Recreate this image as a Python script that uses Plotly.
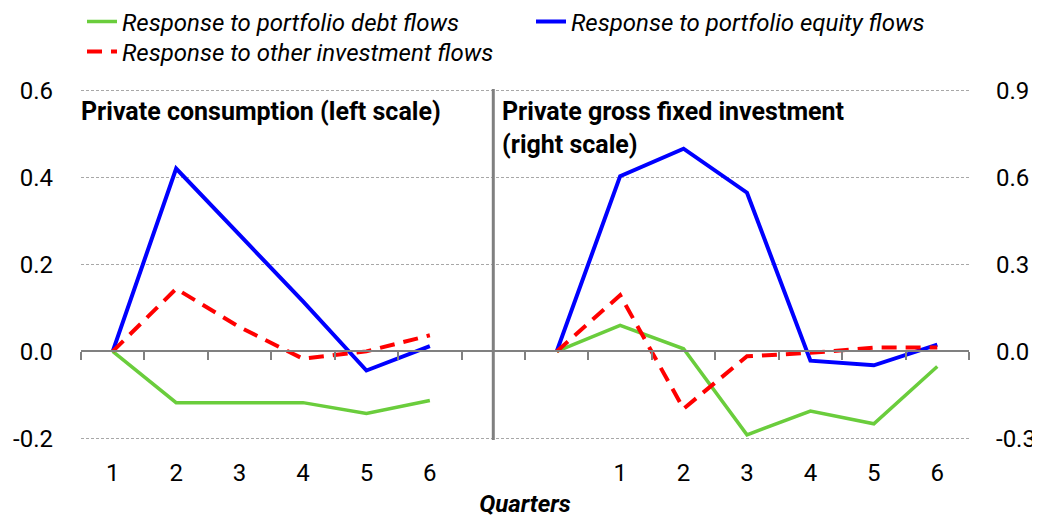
import plotly.graph_objects as go

# left panel: private consumption (left scale), quarters 1..6
quarters_left = [1, 2, 3, 4, 5, 6]
cons_debt = [0.0, -0.118, -0.118, -0.118, -0.143, -0.113]
cons_equity = [0.0, 0.421, 0.268, 0.115, -0.044, 0.012]
cons_other = [0.0, 0.144, 0.056, -0.017, 0.0, 0.037]

# right panel: private gross fixed investment (right scale), quarters 0..6
quarters_right = [0, 1, 2, 3, 4, 5, 6]
inv_debt = [0.0, 0.090, 0.009, -0.288, -0.206, -0.250, -0.052]
inv_equity = [0.0, 0.605, 0.700, 0.548, -0.032, -0.048, 0.023]
inv_other = [0.0, 0.194, -0.198, -0.017, -0.005, 0.013, 0.013]

left_ticks = [-0.2, 0.0, 0.2, 0.4, 0.6]
right_ticks = [-0.3, 0.0, 0.3, 0.6, 0.9]

names = ['Response to portfolio debt flows',
         'Response to portfolio equity flows',
         'Response to other investment flows']

FONT = 'Roboto, Liberation Sans, sans-serif'
GREEN = '#6ACD3C'
BLUE = '#0000FF'
RED = '#FF0000'

# page body has an 8px margin, so the figure is drawn 8px smaller
W, H = 1032, 510

# positions on one shared axis: left block, one empty slot, right block
gap = len(quarters_left)
x_left = list(range(len(quarters_left)))
x_right = [gap + 1 + i for i in range(len(quarters_right))]
n_slots = x_right[-1] + 1

tickvals = x_left + x_right
ticktext = [str(q) for q in quarters_left] + [str(q) if q > 0 else '' for q in quarters_right]

styles = [dict(color=GREEN, width=3.5),
          dict(color=BLUE, width=4),
          dict(color=RED, width=4, dash='15px,9px')]
legends = ['legend', 'legend2', 'legend3']

fig = go.Figure()

left = [cons_debt, cons_equity, cons_other]
right = [inv_debt, inv_equity, inv_other]
for i in range(3):
    fig.add_trace(go.Scatter(x=x_left, y=left[i], mode='lines', name=names[i],
                             line=styles[i], legendgroup=names[i],
                             legend=legends[i], yaxis='y'))
for i in range(3):
    fig.add_trace(go.Scatter(x=x_right, y=right[i], mode='lines', name=names[i],
                             line=styles[i], legendgroup=names[i], showlegend=False,
                             yaxis='y2'))

# dummy trace so the zero axis (xaxis2) is drawn
fig.add_trace(go.Scatter(x=[None], y=[None], xaxis='x2', showlegend=False,
                         hoverinfo='skip'))

# divider between panels
fig.add_vline(x=gap, line=dict(color='#808080', width=3))


def leg(px, py):
    # px: left edge, py: row centre, both in pixels from the top-left
    return dict(
        orientation='h', xref='container', yref='container',
        x=px / W, y=1 - py / H, xanchor='left', yanchor='middle',
        font=dict(family=FONT, size=24, style='italic'),
        itemwidth=30, bgcolor='rgba(0,0,0,0)',
    )


# small padding so the edge gridlines (0.6 / -0.2) are not clipped
eps = 0.004
y_lo, y_hi = left_ticks[0] - eps, left_ticks[-1] + eps
zero_pos = (0 - y_lo) / (y_hi - y_lo)

fig.update_layout(
    width=W, height=H,
    plot_bgcolor='white', paper_bgcolor='white',
    margin=dict(l=73, r=71, t=81, b=78),
    font=dict(family=FONT, color='black', size=24),
    showlegend=True,
    legend=leg(74, 14),
    legend2=leg(523, 14),
    legend3=leg(74, 44),
    xaxis=dict(
        range=[-0.5, n_slots - 0.5], automargin=False,
        tickmode='array', tickvals=tickvals, ticktext=ticktext,
        showgrid=False, zeroline=False, showline=False, ticks='',
        ticklabelstandoff=16,
        tickfont=dict(size=24),
        title=dict(text='<b><i>Quarters</i></b>', standoff=15,
                   font=dict(size=24)),
    ),
    xaxis2=dict(
        overlaying='x', anchor='free', position=zero_pos, automargin=False,
        range=[-0.5, n_slots - 0.5],
        tickmode='array', tickvals=[v - 0.5 for v in range(n_slots + 1)],
        showticklabels=False, ticks='outside', ticklen=8, tickwidth=2,
        tickcolor='#808080',
        showline=True, linecolor='#808080', linewidth=2,
        showgrid=False, zeroline=False,
    ),
    yaxis=dict(
        range=[y_lo, y_hi], automargin=False,
        tickmode='array', tickvals=left_ticks,
        ticktext=[f'{v:.1f}' for v in left_ticks],
        showgrid=True, gridcolor='#A8A8A8', griddash='3px,2px', gridwidth=1,
        zeroline=False, showline=False, ticks='',
        ticklabelstandoff=27,
        tickfont=dict(size=24),
    ),
    yaxis2=dict(
        overlaying='y', side='right', automargin=False,
        range=[right_ticks[0] - 1.5 * eps, right_ticks[-1] + 1.5 * eps],
        tickmode='array', tickvals=right_ticks,
        ticktext=[f'{v:.1f}' for v in right_ticks],
        showgrid=False, zeroline=False, showline=False, ticks='',
        ticklabelstandoff=26,
        tickfont=dict(size=24),
    ),
)

fig.add_annotation(text='<b>Private consumption (left scale)</b>',
                   xref='paper', yref='paper', x=-0.002, y=0.984,
                   xanchor='left', yanchor='top', showarrow=False,
                   align='left', font=dict(size=25))
fig.add_annotation(text='<b>Private gross fixed investment<br>(right scale)</b>',
                   xref='paper', yref='paper', x=0.472, y=0.984,
                   xanchor='left', yanchor='top', showarrow=False,
                   align='left', font=dict(size=25))

fig.write_html('out.html')
